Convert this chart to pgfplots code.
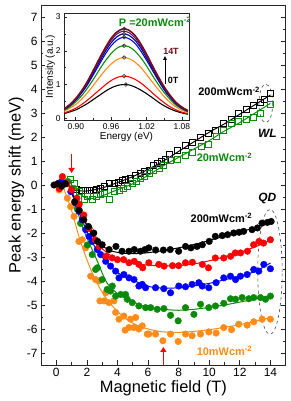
\documentclass[border=0pt]{standalone}
\usepackage{fontspec}
\setmainfont{Liberation Sans}
\usepackage{pgfplots}
\usepackage{pgfplotstable}
\pgfplotsset{compat=1.18}
\usetikzlibrary{arrows.meta}
\definecolor{cOrange}{HTML}{FF8C1A}
\definecolor{cGreen}{HTML}{0A8A0A}
\definecolor{cNavy}{HTML}{000080}
\definecolor{cPurple}{HTML}{5A1A7A}
\definecolor{cMaroon}{HTML}{7A0A1A}

\pgfplotstableread{
E c0 c1 c2 c3 c4 c5 c6 c7
0.87 0.11 0.12 0.15 0.17 0.18 0.19 0.19 0.19
0.88 0.14 0.16 0.21 0.24 0.26 0.27 0.28 0.28
0.89 0.19 0.22 0.30 0.34 0.38 0.39 0.40 0.41
0.90 0.25 0.30 0.41 0.49 0.54 0.56 0.57 0.59
0.91 0.34 0.41 0.57 0.67 0.75 0.78 0.80 0.82
0.92 0.44 0.54 0.76 0.90 1.00 1.04 1.08 1.10
0.93 0.56 0.69 0.98 1.16 1.30 1.35 1.39 1.43
0.94 0.68 0.84 1.21 1.44 1.60 1.67 1.72 1.77
0.95 0.80 0.99 1.43 1.70 1.90 1.98 2.04 2.09
0.96 0.90 1.12 1.61 1.92 2.15 2.24 2.31 2.37
0.97 0.97 1.21 1.74 2.08 2.32 2.42 2.50 2.56
0.98 1.00 1.25 1.80 2.15 2.40 2.50 2.58 2.65
0.99 0.99 1.23 1.77 2.12 2.36 2.46 2.54 2.61
1.00 0.93 1.16 1.67 2.00 2.23 2.32 2.39 2.46
1.01 0.84 1.05 1.51 1.80 2.00 2.09 2.15 2.21
1.02 0.73 0.91 1.30 1.55 1.72 1.79 1.85 1.90
1.03 0.61 0.75 1.07 1.27 1.42 1.48 1.52 1.56
1.04 0.48 0.60 0.85 1.00 1.12 1.16 1.20 1.23
1.05 0.37 0.46 0.64 0.76 0.84 0.88 0.90 0.93
1.06 0.28 0.34 0.47 0.56 0.62 0.64 0.66 0.68
1.07 0.21 0.25 0.34 0.39 0.43 0.45 0.46 0.47
1.08 0.16 0.18 0.24 0.28 0.30 0.31 0.32 0.33
1.09 0.12 0.14 0.17 0.19 0.21 0.22 0.22 0.23
}\spectra

\begin{document}
\begin{tikzpicture}
\begin{axis}[
  name=main, at={(0,0)}, anchor=south west,
  scale only axis, width=244.7bp, height=360bp,
  xmin=-1, xmax=15, ymin=-7.5, ymax=7.5,
  xtick={0,2,...,14}, minor x tick num=1,
  ytick={-7,-6,...,7}, minor y tick num=1,
  xtick pos=bottom, ytick pos=both,
  tick align=inside,
  major tick length=4.5bp, minor tick length=2.5bp,
  every tick/.style={black!85, line width=0.7pt},
  axis line style={black!85, line width=0.9pt},
  /pgf/number format/assume math mode=true,
  tick label style={font=\fontsize{12}{14}\selectfont},
  label style={font=\fontsize{16.5}{19}\selectfont},
  xlabel={Magnetic field (T)},
  ylabel={Peak energy shift (meV)},
  xlabel style={yshift=3bp},
  ylabel style={yshift=-4bp},
  clip=false,
]
% ---------------- WL 200 (black squares)
\addplot[only marks, mark=square, mark size=3bp, black, line width=0.8pt] coordinates {
(1.3,-0.20)(1.66,-0.24)(1.92,-0.24)(2.14,-0.21)(2.4,-0.21)(2.61,-0.18)(2.9,-0.14)(3.16,-0.07)
(3.49,0.07)(3.77,0.07)(4.05,0.12)(4.31,0.18)(4.53,0.24)(4.86,0.29)(5.19,0.39)(5.47,0.48)
(5.77,0.58)(6.08,0.62)(6.38,0.83)(6.6,0.90)(6.86,0.97)(7.14,1.08)(7.4,1.28)(7.9,1.45)
(8.41,1.64)(8.88,1.79)(9.43,1.98)(9.97,2.17)(10.41,2.28)(10.95,2.56)(11.46,2.72)(11.93,2.97)
(12.41,3.14)(12.91,3.31)(13.35,3.45)(13.6,3.55)(14.0,3.82)};
\addplot[smooth, black, line width=1pt] coordinates {
(1.2,-0.22)(2,-0.25)(3,-0.12)(4,0.1)(5,0.35)(6,0.65)(7,1.0)(8,1.4)(9,1.8)(10,2.2)(11,2.55)(12,2.95)(13,3.35)(14,3.75)};
% ---------------- WL 20 (green squares)
\addplot[only marks, mark=square, mark size=3bp, cGreen, line width=0.8pt] coordinates {
(0.94,0.24)(1.16,0.07)(1.48,-0.28)(1.81,-0.62)(2.03,-0.48)(2.35,-0.62)(2.61,-0.48)(2.9,-0.41)
(3.16,-0.34)(3.49,-0.59)(3.77,-0.28)(4.1,-0.21)(4.36,-0.14)(4.64,-0.07)(4.96,0.07)(5.25,0.14)
(5.51,0.28)(5.79,0.34)(6.12,0.48)(6.38,0.62)(6.71,0.69)(7.0,0.80)(7.47,1.04)(7.9,1.08)
(8.45,1.24)(8.88,1.34)(9.5,1.59)(9.97,1.70)(10.48,2.03)(10.95,2.28)(11.46,2.58)(11.93,2.66)
(12.41,2.72)(12.91,2.80)(13.35,2.97)(14.0,3.36)};
\addplot[smooth, cGreen, line width=1pt] coordinates {
(1.2,0.0)(1.6,-0.4)(2,-0.55)(2.5,-0.55)(3,-0.45)(4,-0.2)(5,0.05)(6,0.4)(7,0.8)(8,1.15)(9,1.5)(10,1.85)(11,2.25)(12,2.6)(13,3.0)(14,3.4)};
% ---------------- QD orange (10)
\addplot[only marks, mark=*, mark size=3.3bp, cOrange] coordinates {
(0.18,-0.21)(0.3,-0.1)(0.72,-0.55)(0.94,-0.9)(1.16,-1.31)(1.48,-2.35)(1.7,-2.28)(1.92,-2.62)
(2.25,-3.8)(2.57,-3.94)(2.79,-4.0)(2.85,-4.83)(3.12,-4.83)(3.23,-4.49)(3.44,-4.9)(3.77,-4.83)
(3.88,-5.31)(4.1,-5.59)(4.42,-5.46)(4.5,-6.05)(4.75,-5.94)(4.86,-5.59)(5.08,-5.94)(5.19,-5.52)
(5.4,-6.0)(5.62,-5.87)(5.95,-6.21)(6.05,-6.21)(6.49,-6.21)(6.97,-6.49)(7.47,-6.21)(7.97,-6.52)
(8.45,-6.21)(8.88,-6.28)(9.43,-6.21)(9.97,-6.12)(10.45,-6.17)(10.95,-5.94)(11.46,-6.03)
(11.93,-5.8)(12.48,-5.84)(12.91,-5.7)(13.46,-5.59)(14.0,-5.59)};
\addplot[smooth, cOrange, line width=1pt] coordinates {
(0.4,0.0)(0.7,-0.5)(1.05,-1.17)(1.48,-2.14)(1.92,-2.97)(2.35,-3.66)(2.8,-4.25)(3.3,-4.75)(3.9,-5.2)(4.5,-5.55)(5.2,-5.82)(6,-6.0)(7,-6.12)(8,-6.14)(9,-6.1)(10,-6.03)(11,-5.93)(12,-5.82)(13,-5.68)(14,-5.52)};
% ---------------- QD green
\addplot[only marks, mark=*, mark size=3.3bp, cGreen] coordinates {
(0.75,0.15)(1.05,-0.14)(1.37,-1.0)(1.59,-1.6)(2.03,-2.5)(2.35,-2.9)(2.57,-3.52)(2.68,-3.45)
(3.0,-3.94)(3.33,-4.35)(3.55,-4.42)(3.66,-4.21)(3.88,-4.63)(4.21,-4.56)(4.53,-4.56)(4.64,-4.76)
(4.97,-4.9)(5.4,-5.04)(5.84,-5.11)(6.17,-5.11)(6.6,-5.18)(7.03,-5.15)(7.47,-5.43)(7.97,-5.66)
(8.45,-5.11)(9.0,-5.39)(9.43,-4.97)(9.97,-5.11)(10.41,-5.04)(10.95,-4.93)(11.39,-4.74)
(11.72,-4.76)(12.15,-4.69)(12.59,-4.74)(12.91,-4.69)(13.35,-4.69)(13.68,-4.76)(14.0,-4.63)};
\addplot[smooth, cGreen, line width=1pt] coordinates {
(0.8,0.1)(1.2,-0.7)(1.7,-1.73)(2.35,-2.7)(2.7,-3.2)(3.2,-3.95)(3.6,-4.3)(4.3,-4.65)(5.4,-4.97)(6,-5.1)(7,-5.18)(8,-5.22)(9,-5.18)(10,-5.1)(11,-5.0)(12,-4.88)(13,-4.75)(14,-4.6)};
% ---------------- QD blue
\addplot[only marks, mark=*, mark size=3.3bp, blue] coordinates {
(0.15,0.07)(0.35,0.15)(0.55,0.05)(0.95,-0.28)(1.27,-0.76)(1.48,-1.1)(1.7,-1.45)(1.92,-1.86)
(2.14,-2.14)(2.35,-2.35)(2.68,-2.69)(2.9,-2.9)(3.23,-3.18)(3.55,-3.38)(3.88,-3.59)(4.1,-3.87)
(4.42,-3.73)(4.75,-3.87)(5.08,-3.94)(5.4,-4.21)(5.62,-4.14)(5.84,-4.28)(6.49,-4.28)(7.03,-4.32)
(7.47,-4.49)(8.01,-4.21)(8.45,-4.24)(8.88,-4.14)(9.32,-4.07)(9.54,-4.21)(9.97,-4.28)(10.45,-4.07)
(10.95,-3.87)(11.39,-3.8)(11.72,-3.94)(12.04,-3.8)(12.48,-3.73)(12.91,-3.52)(13.24,-3.59)
(13.57,-3.31)(14.0,-3.49)};
\addplot[smooth, blue, line width=1pt] coordinates {
(0.7,0.1)(0.94,-0.21)(1.5,-1.15)(2.14,-2.14)(2.7,-2.75)(3.23,-3.18)(4,-3.65)(5.08,-3.98)(6,-4.22)(7,-4.3)(8,-4.28)(9,-4.2)(10,-4.1)(11,-3.95)(12,-3.8)(13,-3.6)(14,-3.25)};
% ---------------- QD red
\addplot[only marks, mark=*, mark size=3.3bp, red] coordinates {
(0.2,-0.15)(0.4,0.35)(0.7,0.05)(1.0,-0.2)(1.35,-0.55)(1.5,-0.8)(1.8,-1.25)(2.15,-1.8)
(2.55,-2.28)(2.8,-2.56)(3.25,-2.97)(3.65,-3.04)(4.0,-3.11)(4.4,-3.11)(4.75,-3.24)(5.1,-3.18)
(5.4,-3.31)(5.65,-3.45)(6.05,-3.24)(6.7,-3.31)(7.05,-3.38)(7.6,-3.36)(8.0,-3.36)(8.45,-3.24)
(8.9,-3.22)(9.55,-3.31)(9.95,-3.45)(10.4,-3.04)(10.95,-3.04)(11.4,-2.97)(11.7,-2.83)
(12.05,-2.83)(12.5,-2.76)(12.9,-2.49)(13.25,-2.35)(13.55,-2.42)(14.0,-2.28)};
\addplot[smooth, red, line width=1pt] coordinates {
(0.75,0.1)(1.0,-0.25)(1.5,-0.95)(2.14,-1.86)(2.6,-2.35)(3.0,-2.65)(3.6,-2.95)(4.5,-3.15)(5.5,-3.3)(6.5,-3.36)(7.5,-3.37)(8.5,-3.33)(9.5,-3.23)(10.5,-3.08)(11.5,-2.9)(12.5,-2.7)(13.3,-2.5)(14,-2.3)};
% ---------------- QD black (200)
\addplot[only marks, mark=*, mark size=3.3bp, black] coordinates {
(-0.15,0.0)(0.1,0.05)(0.35,-0.05)(0.6,0.05)(1.2,-0.7)(1.5,-1.05)(1.8,-1.45)(2.1,-1.73)
(2.45,-2.0)(2.7,-2.35)(3.0,-2.49)(3.45,-2.69)(3.9,-2.56)(4.3,-2.76)(4.75,-2.76)(5.1,-2.69)
(5.5,-2.76)(5.8,-2.69)(6.05,-2.62)(6.5,-2.71)(7.0,-2.71)(7.45,-2.69)(8.0,-2.76)(8.45,-2.56)
(8.8,-2.62)(9.2,-2.56)(9.55,-2.49)(10.0,-2.35)(10.4,-2.14)(10.85,-2.11)(11.2,-2.07)(11.6,-2.0)
(11.95,-1.97)(12.25,-1.93)(12.8,-1.86)(13.15,-1.79)(13.45,-1.59)(13.8,-1.56)(14.05,-1.52)};
\addplot[smooth, black, line width=1pt] coordinates {
(0.75,0.05)(1.0,-0.3)(1.4,-0.9)(1.92,-1.59)(2.4,-2.1)(2.79,-2.42)(3.2,-2.62)(3.66,-2.76)(4.5,-2.85)(5.5,-2.85)(6.5,-2.78)(7.5,-2.68)(8.5,-2.55)(9.5,-2.4)(10.5,-2.22)(11.5,-2.05)(12.5,-1.87)(13.3,-1.7)(14,-1.5)};
% ---------------- annotations
\draw[red, line width=1.3pt, -{Triangle[length=5bp,width=6bp]}] (axis cs:1,1.3) -- (axis cs:1,0.5);
\draw[red, line width=1.3pt, -{Triangle[length=5bp,width=6bp]}] (axis cs:7,-7.5) -- (axis cs:7,-6.75);
\draw[black!70, dashed, line width=0.6pt] (axis cs:13.7,3.4) ellipse [x radius=0.45, y radius=0.8];
\draw[black!70, dashed, line width=0.6pt] (axis cs:13.97,-3.62) ellipse [x radius=0.8, y radius=2.6];
\node[font=\fontsize{11}{13}\selectfont\bfseries, black] at (axis cs:11.3,3.9) {200mWcm\textsuperscript{-2}};
\node[font=\fontsize{11}{13}\selectfont\bfseries, cGreen] at (axis cs:11.0,1.15) {20mWcm\textsuperscript{-2}};
\node[font=\fontsize{12}{14}\selectfont\bfseries\itshape, black] at (axis cs:13.8,2.15) {WL};
\node[font=\fontsize{12}{14}\selectfont\bfseries\itshape, black] at (axis cs:13.8,-0.55) {QD};
\node[font=\fontsize{11}{13}\selectfont\bfseries, black] at (axis cs:10.8,-1.38) {200mWcm\textsuperscript{-2}};
\node[font=\fontsize{11}{13}\selectfont\bfseries, cOrange] at (axis cs:11.0,-6.9) {10mWcm\textsuperscript{-2}};
\end{axis}

\begin{axis}[
  at={(23bp,245bp)}, anchor=south west,
  scale only axis, width=125bp, height=107bp,
  xmin=0.88, xmax=1.092, ymin=-0.05, ymax=3.12,
  xtick={0.90,0.96,1.02,1.08}, minor x tick num=1,
  ytick={0,1,2,3}, minor y tick num=1,
  xtick pos=bottom, ytick pos=left,
  tick align=inside,
  major tick length=3bp, minor tick length=1.8bp,
  every tick/.style={black!85, line width=0.6pt},
  axis line style={black!85, line width=0.8pt},
  axis background/.style={fill=white},
  /pgf/number format/assume math mode=true,
  xticklabel style={/pgf/number format/.cd, fixed, fixed zerofill, precision=2},
  tick label style={font=\fontsize{8.5}{10}\selectfont},
  label style={font=\fontsize{10}{12}\selectfont},
  xlabel={Energy (eV)}, ylabel={Intensity (a.u.)},
  xlabel style={yshift=4bp},
  ylabel style={yshift=-6bp},
  clip=true,
]
\addplot[black, line width=1.1pt, smooth] table[x=E, y=c0] {\spectra};
\addplot[red, line width=1.1pt, smooth] table[x=E, y=c1] {\spectra};
\addplot[cOrange, line width=1.1pt, smooth] table[x=E, y=c2] {\spectra};
\addplot[cGreen, line width=1.1pt, smooth] table[x=E, y=c3] {\spectra};
\addplot[blue, line width=1.1pt, smooth] table[x=E, y=c4] {\spectra};
\addplot[cNavy, line width=1.1pt, smooth] table[x=E, y=c5] {\spectra};
\addplot[cPurple, line width=1.1pt, smooth] table[x=E, y=c6] {\spectra};
\addplot[cMaroon, line width=1.6pt, smooth] table[x=E, y=c7] {\spectra};
\addplot[only marks, mark=o, mark size=1.8bp, black!80, line width=0.6pt] coordinates {
(0.985,1.00)(0.982,1.25)(0.982,1.80)(0.982,2.15)(0.982,2.40)(0.982,2.50)(0.982,2.65)};
\end{axis}
% inset annotations (in picture coordinates relative to main axis origin)
\node[font=\fontsize{11}{13}\selectfont\bfseries, cGreen] at (114bp,343bp) {P =20mWcm\textsuperscript{-2}};
\node[font=\fontsize{9}{10}\selectfont\bfseries, cMaroon] at (130bp,314bp) {14T};
\node[font=\fontsize{9}{10}\selectfont\bfseries, black] at (132bp,285bp) {0T};
\draw[black, line width=0.8pt, -{Triangle[length=4bp,width=3.5bp]}] (124bp,281bp) -- (124bp,309bp);
\pgfresetboundingbox
\path (-41bp,-36bp) rectangle (250bp,365bp);
\end{tikzpicture}
\end{document}
